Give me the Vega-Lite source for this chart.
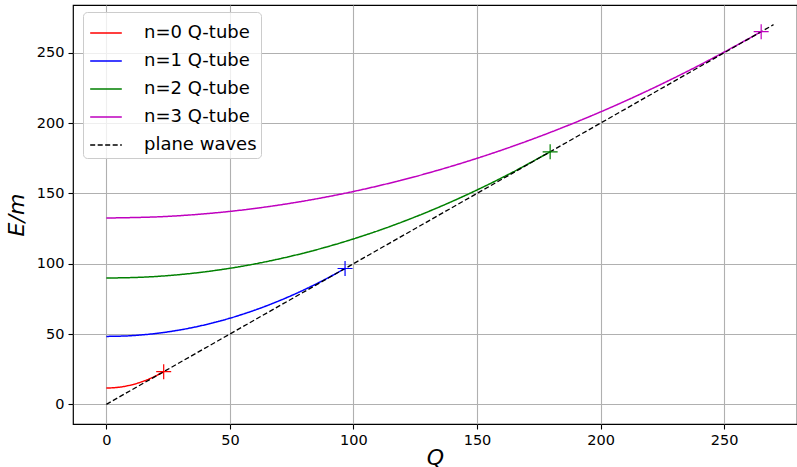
{
  "$schema": "https://vega.github.io/schema/vega-lite/v6.json",
  "width": 724,
  "height": 419,
  "autosize": {"type": "none"},
  "padding": {"left": 73, "top": 5, "right": 0, "bottom": 43},
  "config": {
    "font": "DejaVu Sans",
    "view": {"stroke": "black", "strokeWidth": 1.2},
    "axis": {
      "grid": true, "gridColor": "#b0b0b0", "gridWidth": 1.1,
      "domain": false, "tickColor": "black", "tickSize": 5, "tickWidth": 1.1,
      "labelFontSize": 14.5, "labelColor": "black", "labelPadding": 4,
      "titleFontSize": 22, "titleFontStyle": "italic", "titleFontWeight": "normal", "titleColor": "black"
    }
  },
  "datasets": {
    "curves": [
      {"series": "n=0 Q-tube", "Q": 0, "E": 11.6},
      {"series": "n=0 Q-tube", "Q": 2.32, "E": 11.72},
      {"series": "n=0 Q-tube", "Q": 4.64, "E": 12.06},
      {"series": "n=0 Q-tube", "Q": 6.96, "E": 12.64},
      {"series": "n=0 Q-tube", "Q": 9.28, "E": 13.46},
      {"series": "n=0 Q-tube", "Q": 11.6, "E": 14.5},
      {"series": "n=0 Q-tube", "Q": 13.92, "E": 15.78},
      {"series": "n=0 Q-tube", "Q": 16.24, "E": 17.28},
      {"series": "n=0 Q-tube", "Q": 18.56, "E": 19.02},
      {"series": "n=0 Q-tube", "Q": 20.88, "E": 21.0},
      {"series": "n=0 Q-tube", "Q": 23.2, "E": 23.2},
      {"series": "n=1 Q-tube", "Q": 0, "E": 48.3},
      {"series": "n=1 Q-tube", "Q": 9.66, "E": 48.78},
      {"series": "n=1 Q-tube", "Q": 19.32, "E": 50.23},
      {"series": "n=1 Q-tube", "Q": 28.98, "E": 52.65},
      {"series": "n=1 Q-tube", "Q": 38.64, "E": 56.03},
      {"series": "n=1 Q-tube", "Q": 48.3, "E": 60.38},
      {"series": "n=1 Q-tube", "Q": 57.96, "E": 65.69},
      {"series": "n=1 Q-tube", "Q": 67.62, "E": 71.97},
      {"series": "n=1 Q-tube", "Q": 77.28, "E": 79.21},
      {"series": "n=1 Q-tube", "Q": 86.94, "E": 87.42},
      {"series": "n=1 Q-tube", "Q": 96.6, "E": 96.6},
      {"series": "n=2 Q-tube", "Q": 0, "E": 89.8},
      {"series": "n=2 Q-tube", "Q": 17.96, "E": 90.7},
      {"series": "n=2 Q-tube", "Q": 35.92, "E": 93.39},
      {"series": "n=2 Q-tube", "Q": 53.88, "E": 97.88},
      {"series": "n=2 Q-tube", "Q": 71.84, "E": 104.17},
      {"series": "n=2 Q-tube", "Q": 89.8, "E": 112.25},
      {"series": "n=2 Q-tube", "Q": 107.76, "E": 122.13},
      {"series": "n=2 Q-tube", "Q": 125.72, "E": 133.8},
      {"series": "n=2 Q-tube", "Q": 143.68, "E": 147.27},
      {"series": "n=2 Q-tube", "Q": 161.64, "E": 162.54},
      {"series": "n=2 Q-tube", "Q": 179.6, "E": 179.6},
      {"series": "n=3 Q-tube", "Q": 0, "E": 132.5},
      {"series": "n=3 Q-tube", "Q": 26.5, "E": 133.83},
      {"series": "n=3 Q-tube", "Q": 53, "E": 137.8},
      {"series": "n=3 Q-tube", "Q": 79.5, "E": 144.43},
      {"series": "n=3 Q-tube", "Q": 106, "E": 153.7},
      {"series": "n=3 Q-tube", "Q": 132.5, "E": 165.63},
      {"series": "n=3 Q-tube", "Q": 159, "E": 180.2},
      {"series": "n=3 Q-tube", "Q": 185.5, "E": 197.43},
      {"series": "n=3 Q-tube", "Q": 212, "E": 217.3},
      {"series": "n=3 Q-tube", "Q": 238.5, "E": 239.83},
      {"series": "n=3 Q-tube", "Q": 265, "E": 265}
    ],
    "plane": [
      {"series": "plane waves", "Q": 0, "E": 0},
      {"series": "plane waves", "Q": 270, "E": 270}
    ],
    "ends": [
      {"series": "n=0 Q-tube", "Q": 23.2, "E": 23.2},
      {"series": "n=1 Q-tube", "Q": 96.6, "E": 96.6},
      {"series": "n=2 Q-tube", "Q": 179.6, "E": 179.6},
      {"series": "n=3 Q-tube", "Q": 265, "E": 265}
    ]
  },
  "encoding": {
    "x": {"field": "Q", "type": "quantitative", "title": "Q",
      "scale": {"domain": [-13.5, 279.5], "nice": false, "zero": false},
      "axis": {"values": [0, 50, 100, 150, 200, 250], "titlePadding": 1}},
    "y": {"field": "E", "type": "quantitative", "title": "E/m",
      "scale": {"domain": [-14, 284], "nice": false, "zero": false},
      "axis": {"values": [0, 50, 100, 150, 200, 250], "titlePadding": 8}}
  },
  "layer": [
    {
      "data": {"name": "curves"},
      "mark": {"type": "line", "strokeWidth": 1.5, "interpolate": "monotone", "clip": true},
      "encoding": {
        "color": {"field": "series", "type": "nominal",
          "scale": {"domain": ["n=0 Q-tube", "n=1 Q-tube", "n=2 Q-tube", "n=3 Q-tube", "plane waves"],
            "range": ["#ff0000", "#0000ff", "#008000", "#bf00bf", "#000000"]},
          "legend": {"title": null, "orient": "none", "legendX": 10, "legendY": 7,
            "labelFontSize": 18, "labelColor": "black", "symbolType": "stroke", "symbolSize": 1000,
            "symbolStrokeWidth": 1.5, "fillColor": "rgba(255,255,255,0.8)", "strokeColor": "#cccccc",
            "cornerRadius": 4, "padding": 4, "rowPadding": 2, "labelOffset": 21, "symbolOffset": 2}},
        "strokeDash": {"field": "series", "type": "nominal",
          "scale": {"domain": ["n=0 Q-tube", "n=1 Q-tube", "n=2 Q-tube", "n=3 Q-tube", "plane waves"],
            "range": [[1, 0], [1, 0], [1, 0], [1, 0], [5, 2.5]]},
          "legend": {"title": null}}
      }
    },
    {
      "data": {"name": "plane"},
      "mark": {"type": "line", "strokeWidth": 1.3},
      "encoding": {
        "color": {"field": "series", "type": "nominal"},
        "strokeDash": {"field": "series", "type": "nominal"}
      }
    },
    {
      "data": {"name": "ends"},
      "mark": {"type": "point", "shape": "M-1,0L1,0M0,-1L0,1", "size": 225, "filled": false, "strokeWidth": 1.2, "opacity": 1},
      "encoding": {
        "color": {"field": "series", "type": "nominal", "legend": null}
      }
    }
  ]
}
